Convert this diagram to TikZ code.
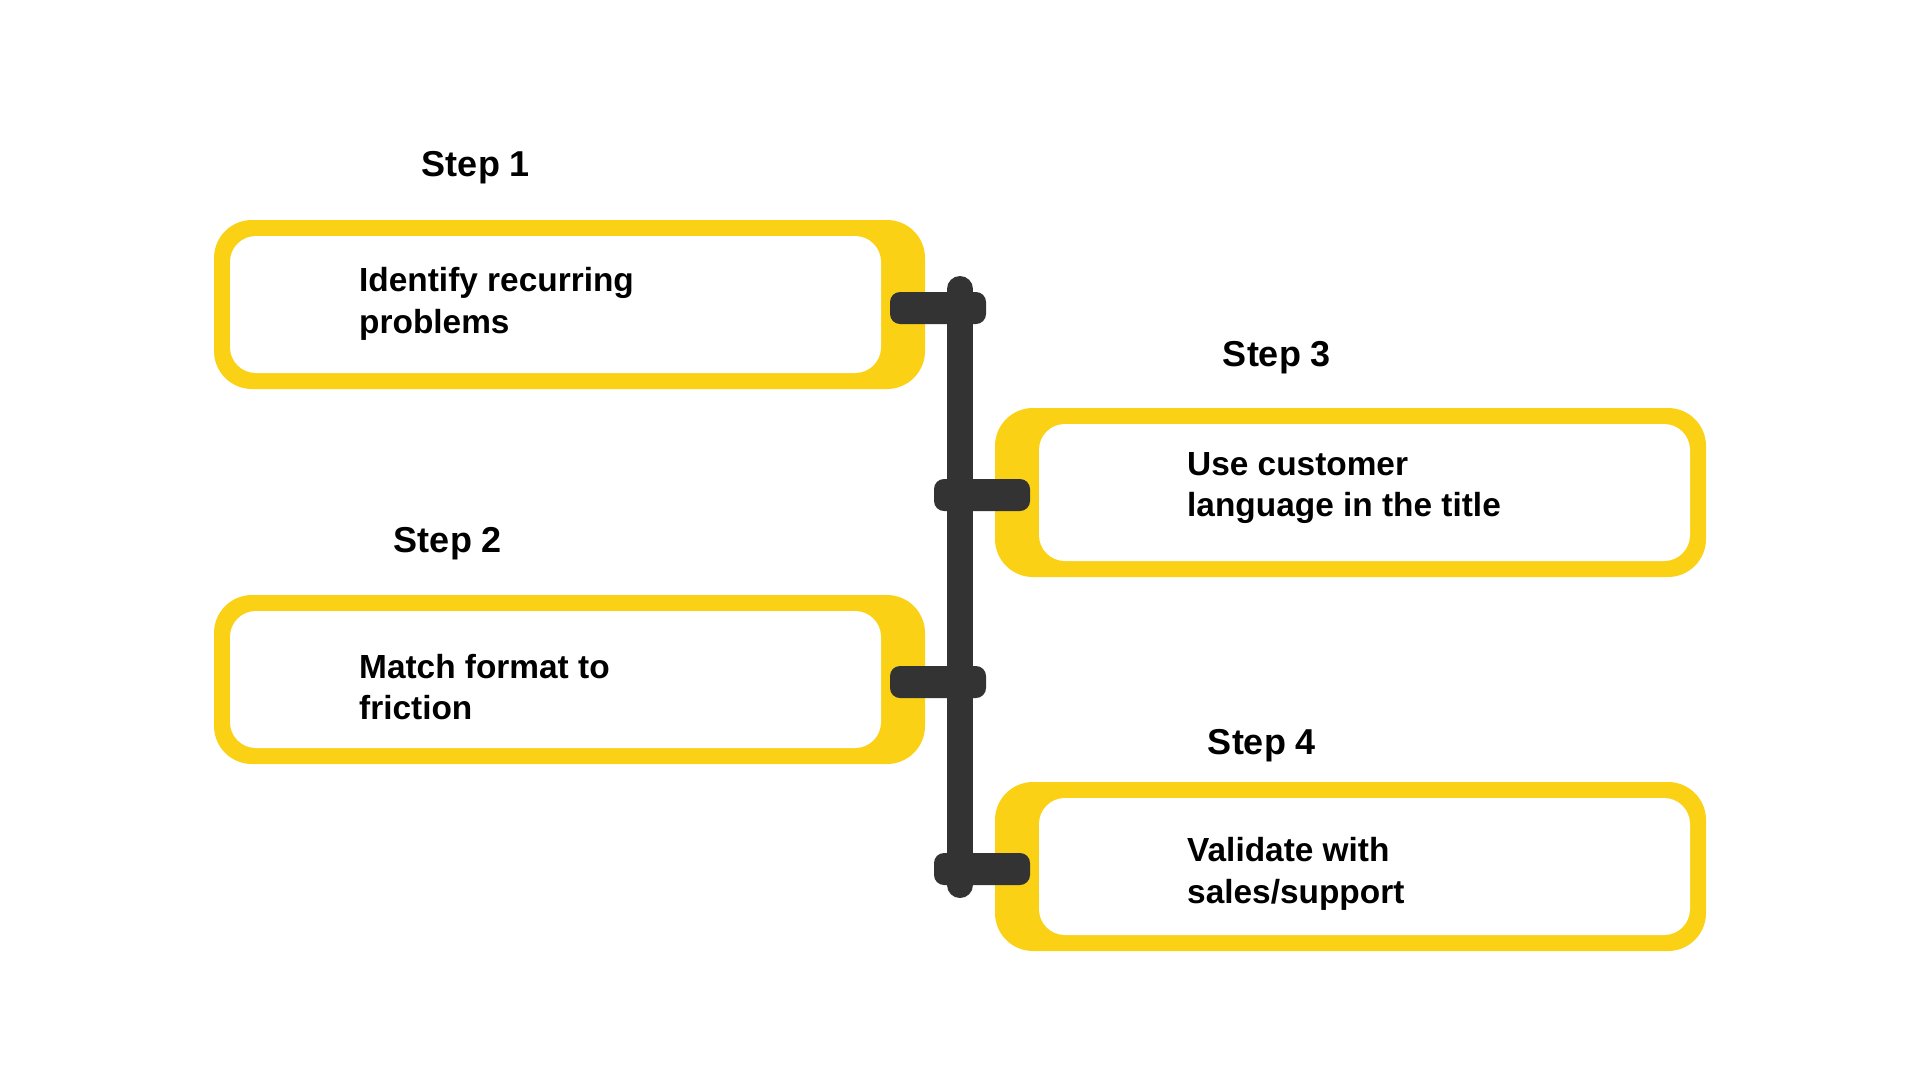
\documentclass[tikz,border=0pt]{standalone}
\usepackage{fontspec}
\setmainfont{Liberation Sans}
\usepackage{xcolor}
\definecolor{stepyellow}{HTML}{FBD116}
\definecolor{bardark}{HTML}{333333}

\tikzset{
  outerbox/.style={rectangle, rounded corners=38pt, fill=stepyellow, minimum width=711pt, minimum height=169pt, inner sep=0pt},
  innerbox/.style={rectangle, rounded corners=26pt, fill=white, minimum width=651pt, minimum height=137pt, inner sep=0pt},
  boxtext/.style={anchor=west, align=left, inner sep=0pt, font=\fontsize{33.4}{41.5}\selectfont\bfseries},
  steplabel/.style={inner sep=0pt, font=\fontsize{36}{40}\selectfont\bfseries},
  tabbar/.style={rectangle, rounded corners=10pt, fill=bardark, minimum width=96pt, minimum height=32pt, inner sep=0pt},
  spine/.style={bardark, line width=26pt, line cap=round}
}

\begin{document}
\begin{tikzpicture}[x=1pt,y=-1pt]
\useasboundingbox[fill=white] (0,0) rectangle (1920,1080);

\node[steplabel] (step1) at (476,168) {Step 1};
\node[outerbox] (box1) at (569.5,304.5) {};
\node[innerbox] (in1) at (555.5,304.5) {};
\node[boxtext] (txt1) at (359,304) {Identify recurring\\problems};

\node[steplabel] (step2) at (448,544) {Step 2};
\node[outerbox] (box2) at (569.5,679.5) {};
\node[innerbox] (in2) at (555.5,679.5) {};
\node[boxtext] (txt2) at (359,687) {Match format to\\friction};

\node[steplabel] (step3) at (1277,358) {Step 3};
\node[outerbox] (box3) at (1350.5,492.5) {};
\node[innerbox] (in3) at (1364.5,492.5) {};
\node[boxtext] (txt3) at (1187,488) {Use customer\\language in the title};

\node[steplabel] (step4) at (1262,746) {Step 4};
\node[outerbox] (box4) at (1350.5,866.5) {};
\node[innerbox] (in4) at (1364.5,866.5) {};
\node[boxtext] (txt4) at (1187,874) {Validate with\\sales/support};

\node[tabbar] (tab1) at (938,308) {};
\node[tabbar] (tab2) at (982,495) {};
\node[tabbar] (tab3) at (938,682) {};
\node[tabbar] (tab4) at (982,869) {};

\coordinate (bartop) at (960,289);
\coordinate (barbot) at (960,885);
\draw[spine] (bartop) -- (barbot);
\end{tikzpicture}
\end{document}
